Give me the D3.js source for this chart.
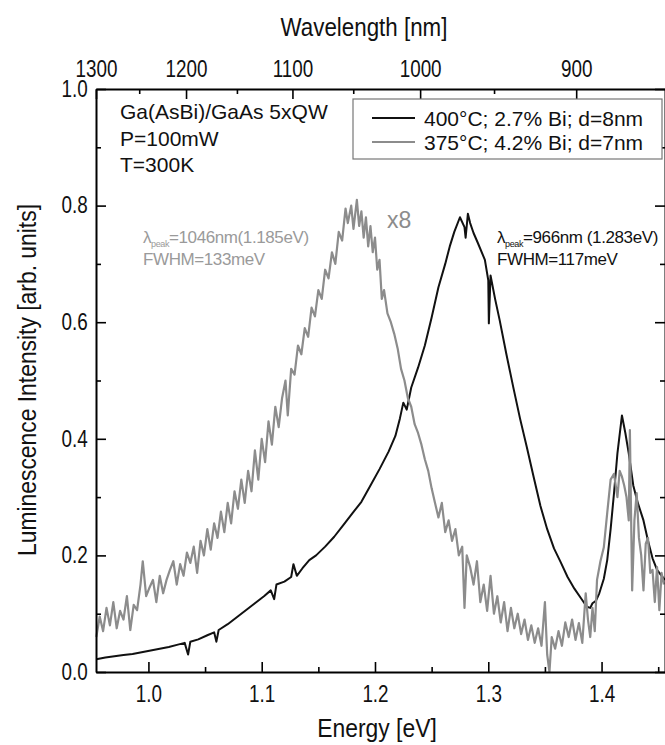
<!DOCTYPE html>
<html>
<head>
<meta charset="utf-8">
<script src="https://cdn.jsdelivr.net/npm/d3@7"></script>
<style>
  body { margin: 0; background: #fff; }
  text { font-family: "Liberation Sans", Arial, sans-serif; }
</style>
</head>
<body>
<div id="chart"></div>
<script>
"use strict";

// 400°C; 2.7% Bi; d=8nm  (black)
var blackE = [0.954, 0.962, 0.970, 0.978, 0.986, 0.994, 1.002, 1.010, 1.018, 1.026, 1.032, 1.035, 1.037,
  1.044, 1.052, 1.058, 1.060, 1.062, 1.070, 1.078, 1.086, 1.094, 1.102, 1.108, 1.111, 1.113, 1.120,
  1.126, 1.128, 1.131, 1.136, 1.142, 1.148, 1.156, 1.164, 1.172, 1.180, 1.188, 1.196, 1.204, 1.212,
  1.218, 1.222, 1.225, 1.228, 1.232, 1.238, 1.244, 1.250, 1.256, 1.262, 1.266, 1.270, 1.275, 1.279,
  1.280, 1.282, 1.284, 1.287, 1.291, 1.297, 1.300, 1.3005, 1.302, 1.306, 1.310, 1.316, 1.322, 1.328,
  1.334, 1.340, 1.346, 1.352, 1.358, 1.364, 1.370, 1.376, 1.382, 1.387, 1.390, 1.392, 1.395, 1.398,
  1.402, 1.405, 1.408, 1.411, 1.414, 1.418, 1.421, 1.424, 1.428, 1.432, 1.437, 1.441, 1.445, 1.449,
  1.453, 1.456];
var blackV = [0.022, 0.025, 0.027, 0.029, 0.031, 0.034, 0.037, 0.040, 0.043, 0.047, 0.050, 0.030, 0.052,
  0.056, 0.063, 0.068, 0.052, 0.072, 0.082, 0.094, 0.106, 0.118, 0.130, 0.140, 0.125, 0.150, 0.155,
  0.163, 0.185, 0.165, 0.178, 0.192, 0.200, 0.215, 0.232, 0.252, 0.272, 0.292, 0.320, 0.348, 0.378,
  0.405, 0.435, 0.462, 0.450, 0.488, 0.522, 0.560, 0.608, 0.660, 0.700, 0.730, 0.755, 0.780, 0.763,
  0.745, 0.786, 0.770, 0.753, 0.735, 0.707, 0.672, 0.598, 0.680, 0.640, 0.604, 0.545, 0.489, 0.435,
  0.386, 0.335, 0.285, 0.245, 0.212, 0.188, 0.163, 0.143, 0.126, 0.112, 0.110, 0.118, 0.122, 0.135,
  0.160, 0.192, 0.245, 0.307, 0.375, 0.440, 0.410, 0.375, 0.320, 0.290, 0.260, 0.225, 0.195, 0.175,
  0.165, 0.158];

// 375°C; 4.2% Bi; d=7nm  (grey, x8)
var greyE = [0.954, 0.957, 0.960, 0.963, 0.966, 0.969, 0.972, 0.975, 0.978, 0.981, 0.984, 0.987, 0.990,
  0.993, 0.995, 0.998, 1.001, 1.004, 1.007, 1.010, 1.013, 1.016, 1.019, 1.022, 1.025, 1.028, 1.031,
  1.034, 1.037, 1.040, 1.043, 1.046, 1.049, 1.052, 1.055, 1.058, 1.061, 1.064, 1.067, 1.070, 1.073,
  1.076, 1.079, 1.082, 1.085, 1.088, 1.091, 1.094, 1.097, 1.100, 1.103, 1.106, 1.109, 1.112, 1.115,
  1.118, 1.121, 1.123, 1.126, 1.129, 1.132, 1.135, 1.138, 1.141, 1.144, 1.147, 1.150, 1.153, 1.156,
  1.159, 1.162, 1.165, 1.168, 1.171, 1.174, 1.176, 1.179, 1.181, 1.184, 1.186, 1.188, 1.190, 1.192,
  1.194, 1.196, 1.198, 1.200, 1.202, 1.204, 1.206, 1.208, 1.211, 1.214, 1.217, 1.220, 1.223, 1.226,
  1.229, 1.232, 1.235, 1.238, 1.241, 1.244, 1.247, 1.250, 1.253, 1.256, 1.259, 1.262, 1.265, 1.268,
  1.271, 1.274, 1.277, 1.279, 1.281, 1.284, 1.287, 1.290, 1.293, 1.296, 1.299, 1.302, 1.305, 1.308,
  1.311, 1.314, 1.317, 1.320, 1.323, 1.326, 1.329, 1.332, 1.335, 1.338, 1.341, 1.344, 1.347, 1.350,
  1.352, 1.354, 1.356, 1.359, 1.362, 1.365, 1.368, 1.371, 1.374, 1.377, 1.380, 1.383, 1.386, 1.388,
  1.390, 1.392, 1.394, 1.396, 1.399, 1.402, 1.405, 1.408, 1.411, 1.414, 1.416, 1.418, 1.420, 1.422,
  1.424, 1.425, 1.427, 1.429, 1.431, 1.433, 1.435, 1.437, 1.439, 1.441, 1.443, 1.445, 1.447, 1.449,
  1.451, 1.453, 1.455];
var greyV = [0.060, 0.095, 0.070, 0.110, 0.080, 0.120, 0.075, 0.105, 0.090, 0.130, 0.072, 0.115, 0.106,
  0.150, 0.190, 0.130, 0.145, 0.158, 0.120, 0.165, 0.135, 0.158, 0.175, 0.190, 0.150, 0.185, 0.165,
  0.205, 0.187, 0.215, 0.170, 0.225, 0.200, 0.245, 0.210, 0.255, 0.230, 0.275, 0.240, 0.290, 0.255,
  0.310, 0.280, 0.330, 0.290, 0.345, 0.310, 0.380, 0.330, 0.400, 0.360, 0.430, 0.390, 0.455, 0.420,
  0.470, 0.500, 0.440, 0.520, 0.510, 0.560, 0.545, 0.590, 0.575, 0.625, 0.610, 0.655, 0.640, 0.690,
  0.675, 0.720, 0.700, 0.755, 0.740, 0.795, 0.770, 0.800, 0.760, 0.810, 0.765, 0.790, 0.745, 0.780,
  0.730, 0.765, 0.720, 0.745, 0.690, 0.707, 0.640, 0.655, 0.615, 0.600, 0.580, 0.555, 0.520, 0.500,
  0.470, 0.455, 0.425, 0.410, 0.390, 0.365, 0.345, 0.315, 0.290, 0.265, 0.290, 0.240, 0.260, 0.225,
  0.245, 0.200, 0.215, 0.110, 0.200, 0.180, 0.150, 0.190, 0.120, 0.150, 0.105, 0.165, 0.100, 0.130,
  0.085, 0.120, 0.070, 0.110, 0.075, 0.100, 0.065, 0.090, 0.055, 0.080, 0.050, 0.075, 0.045, 0.120,
  0.030, 0.000, 0.060, 0.040, 0.070, 0.045, 0.085, 0.060, 0.090, 0.055, 0.084, 0.050, 0.135, 0.090,
  0.060, 0.110, 0.070, 0.158, 0.190, 0.214, 0.273, 0.330, 0.340, 0.300, 0.345, 0.335, 0.320, 0.300,
  0.260, 0.415, 0.140, 0.260, 0.307, 0.230, 0.200, 0.140, 0.220, 0.230, 0.170, 0.175, 0.120, 0.180,
  0.106, 0.170, 0.150];

// axes ticks
var energyTicks = [1.0, 1.1, 1.2, 1.3, 1.4];
var energyMinor = [1.05, 1.15, 1.25, 1.35, 1.45];
var intensityTicks = [0.0, 0.2, 0.4, 0.6, 0.8, 1.0];
var intensityMinor = [0.1, 0.3, 0.5, 0.7, 0.9];
var waveTicks = [1300, 1200, 1100, 1000, 900];
var waveMinor = [1250, 1150, 1050, 950];
var hc = 1239.84; // eV*nm

var legendLabels = ["400°C; 2.7% Bi; d=8nm", "375°C; 4.2% Bi; d=7nm"];
var infoLines = ["Ga(AsBi)/GaAs 5xQW", "P=100mW", "T=300K"];

var width = 665, height = 745;
var plotLeft = 96, plotRight = 665, plotTop = 89, plotBottom = 672;
var squeeze = "scale(0.82,1)"; // the original font is a narrow one

var svg = d3.select("#chart")
            .append("svg")
            .attr("width", width)
            .attr("height", height);

// Scales
var x = d3.scaleLinear()
          .domain([hc / 1300, 1.456])
          .range([plotLeft, plotRight]);
var y = d3.scaleLinear()
          .domain([0, 1])
          .range([plotBottom, plotTop]);

// Curves
var line = d3.line()
             .x(function(d) { return x(d[0]); })
             .y(function(d) { return y(d[1]); });

svg.append("path")
   .datum(d3.zip(blackE, blackV))
   .attr("d", line)
   .attr("fill", "none")
   .attr("stroke", "#111")
   .attr("stroke-width", 2)
   .attr("stroke-linejoin", "round");

svg.append("path")
   .datum(d3.zip(greyE, greyV))
   .attr("d", line)
   .attr("fill", "none")
   .attr("stroke", "#8c8c8c")
   .attr("stroke-width", 2.2)
   .attr("stroke-linejoin", "round");

// Axes
function styleAxis(g) {
  g.select(".domain").attr("stroke", "#000").attr("stroke-width", 2);
  g.selectAll(".tick line").attr("stroke", "#000").attr("stroke-width", 1.6);
  g.selectAll(".tick text")
   .attr("fill", "#111")
   .attr("transform", squeeze)
   .style("font-family", "'Liberation Sans', Arial, sans-serif")
   .style("font-size", "23px");
}
function minorAxis(axis, transform) {
  var g = svg.append("g").attr("transform", transform).call(axis);
  g.select(".domain").remove();
  g.selectAll(".tick line").attr("stroke", "#000").attr("stroke-width", 1.6);
}

var bottomAxis = svg.append("g")
   .attr("transform", "translate(0," + plotBottom + ")")
   .call(d3.axisBottom(x).tickValues(energyTicks).tickSize(-10).tickSizeOuter(0)
           .tickPadding(14).tickFormat(d3.format(".1f")));
styleAxis(bottomAxis);
minorAxis(d3.axisBottom(x).tickValues(energyMinor).tickSize(-5).tickFormat(""),
          "translate(0," + plotBottom + ")");

var leftAxis = svg.append("g")
   .attr("transform", "translate(" + plotLeft + ",0)")
   .call(d3.axisLeft(y).tickValues(intensityTicks).tickSize(-10).tickSizeOuter(0)
           .tickPadding(10).tickFormat(d3.format(".1f")));
styleAxis(leftAxis);
minorAxis(d3.axisLeft(y).tickValues(intensityMinor).tickSize(-5).tickFormat(""),
          "translate(" + plotLeft + ",0)");

var rightAxis = svg.append("g")
   .attr("transform", "translate(" + plotRight + ",0)")
   .call(d3.axisRight(y).tickValues(intensityTicks).tickSize(-10).tickSizeOuter(0).tickFormat(""));
styleAxis(rightAxis);
minorAxis(d3.axisRight(y).tickValues(intensityMinor).tickSize(-5).tickFormat(""),
          "translate(" + plotRight + ",0)");

// top axis: wavelength, placed through energy = hc / lambda
var topAxis = svg.append("g")
   .attr("transform", "translate(0," + plotTop + ")")
   .call(d3.axisTop(x).tickValues(waveTicks.map(function(w) { return hc / w; }))
           .tickSize(-10).tickSizeOuter(0).tickPadding(12)
           .tickFormat(function(e) { return Math.round(hc / e); }));
styleAxis(topAxis);
minorAxis(d3.axisTop(x).tickValues(waveMinor.map(function(w) { return hc / w; }))
            .tickSize(-5).tickFormat(""),
          "translate(0," + plotTop + ")");

// Axis titles
svg.append("text")
   .attr("transform", "translate(377,737) scale(0.88,1)")
   .attr("text-anchor", "middle")
   .style("font-size", "26px")
   .attr("fill", "#111")
   .text("Energy [eV]");

svg.append("text")
   .attr("transform", "translate(364,36) scale(0.86,1)")
   .attr("text-anchor", "middle")
   .style("font-size", "26px")
   .attr("fill", "#111")
   .text("Wavelength [nm]");

svg.append("text")
   .attr("transform", "translate(36,380) rotate(-90) scale(0.88,1)")
   .attr("text-anchor", "middle")
   .style("font-size", "26px")
   .attr("fill", "#111")
   .text("Luminescence Intensity [arb. units]");

// Sample info
svg.selectAll(".info")
   .data(infoLines)
   .enter()
   .append("text")
   .attr("x", 120)
   .attr("y", function(d, i) { return 119 + i * 26.5; })
   .style("font-size", "21px")
   .attr("fill", "#111")
   .text(function(d) { return d; });

// Legend
svg.append("rect")
   .attr("x", 353).attr("y", 99)
   .attr("width", 309).attr("height", 60)
   .attr("fill", "#fff")
   .attr("stroke", "#777")
   .attr("stroke-width", 1.2);

var legendColors = ["#111", "#8c8c8c"];
var legend = svg.selectAll(".legend")
   .data(legendLabels)
   .enter()
   .append("g")
   .attr("transform", function(d, i) { return "translate(0," + (118 + i * 24) + ")"; });
legend.append("line")
   .attr("x1", 372).attr("x2", 415)
   .attr("stroke", function(d, i) { return legendColors[i]; })
   .attr("stroke-width", 2);
legend.append("text")
   .attr("x", 424).attr("y", 7.5)
   .style("font-size", "21px")
   .attr("fill", "#111")
   .text(function(d) { return d; });

// Peak annotations
function peakLabel(xp, yp, color, value, fwhm) {
  var t = svg.append("text")
     .attr("x", xp).attr("y", yp)
     .attr("fill", color)
     .style("font-size", "17px")
     .style("letter-spacing", "-0.4px");
  t.append("tspan").text("λ");
  t.append("tspan").attr("dy", 4).style("font-size", "9px").text("peak");
  t.append("tspan").attr("dy", -4).text(value);
  svg.append("text")
     .attr("x", xp).attr("y", yp + 22)
     .attr("fill", color)
     .style("font-size", "17px")
     .style("letter-spacing", "-0.4px")
     .text(fwhm);
}
peakLabel(143, 243, "#9a9a9a", "=1046nm(1.185eV)", "FWHM=133meV");
peakLabel(497, 243, "#111", "=966nm (1.283eV)", "FWHM=117meV");

svg.append("text")
   .attr("x", 387).attr("y", 228)
   .attr("fill", "#8c8c8c")
   .style("font-size", "23px")
   .text("x8");
</script>
</body>
</html>
